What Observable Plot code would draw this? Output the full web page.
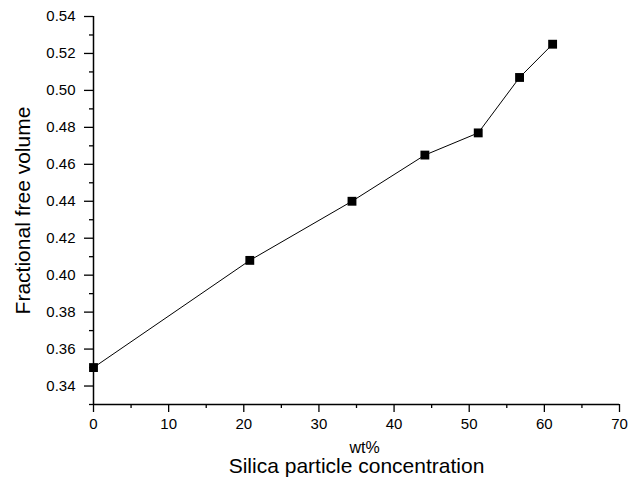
<!DOCTYPE html>
<html>
<head>
<meta charset="utf-8">
<script src="https://cdn.jsdelivr.net/npm/d3@7"></script>
<script src="https://cdn.jsdelivr.net/npm/@observablehq/plot@0.6"></script>
<style>
  html, body { margin: 0; padding: 0; background: #fff; }
  svg { display: block; }
</style>
</head>
<body>
<div id="chart"></div>
<script>
const concentration = [0, 20.8, 34.4, 44.1, 51.2, 56.7, 61.1];
const freeVolume = [0.350, 0.408, 0.440, 0.465, 0.477, 0.507, 0.525];
const xMajorTicks = [0, 10, 20, 30, 40, 50, 60, 70];
const xMinorTicks = [5, 15, 25, 35, 45, 55, 65];
const yMajorTicks = [0.34, 0.36, 0.38, 0.40, 0.42, 0.44, 0.46, 0.48, 0.50, 0.52, 0.54];
const yMinorTicks = [0.33, 0.35, 0.37, 0.39, 0.41, 0.43, 0.45, 0.47, 0.49, 0.51, 0.53];
const xLabelUnit = "wt%";
const xLabel = "Silica particle concentration";
const yLabel = "Fractional free volume";

const data = concentration.map((c, i) => ({x: c, y: freeVolume[i]}));
const font = "Liberation Sans, Arial, Helvetica, sans-serif";

const chart = Plot.plot({
  width: 642,
  height: 481,
  marginLeft: 93,
  marginRight: 23,
  marginTop: 16,
  marginBottom: 77,
  style: {fontFamily: font, fontSize: "15px", color: "#000", background: "#fff"},
  x: {domain: [0, 70]},
  y: {domain: [0.33, 0.54]},
  marks: [
    Plot.axisX({ticks: xMajorTicks, tickSize: 8, tickPadding: 6, label: null, fontSize: 15, strokeWidth: 1.3}),
    Plot.axisX({ticks: xMinorTicks, tickSize: 4, text: null, label: null, strokeWidth: 1.3}),
    Plot.axisY({ticks: yMajorTicks, tickSize: 9, tickPadding: 9, tickFormat: d3.format(".2f"), label: null, fontSize: 15, strokeWidth: 1.3}),
    Plot.axisY({ticks: yMinorTicks, tickSize: 4, text: null, label: null, strokeWidth: 1.3}),
    Plot.ruleY([0.33], {stroke: "#000", strokeWidth: 1.5}),
    Plot.ruleX([0], {stroke: "#000", strokeWidth: 1.5}),
    Plot.line(data, {x: "x", y: "y", stroke: "#000", strokeWidth: 1}),
    Plot.dot(data, {x: "x", y: "y", symbol: "square", r: 5, fill: "#000", stroke: "none"}),
    Plot.text([xLabelUnit], {frameAnchor: "bottom", lineAnchor: "middle", dy: 43, dx: 8, fontSize: 16, text: d => d}),
    Plot.text([xLabel], {frameAnchor: "bottom", lineAnchor: "middle", dy: 62, fontSize: 21, text: d => d}),
    Plot.text([yLabel], {frameAnchor: "left", textAnchor: "middle", lineAnchor: "middle", dx: -70, rotate: -90, fontSize: 21, text: d => d})
  ]
});
document.getElementById("chart").appendChild(chart);
</script>
</body>
</html>
